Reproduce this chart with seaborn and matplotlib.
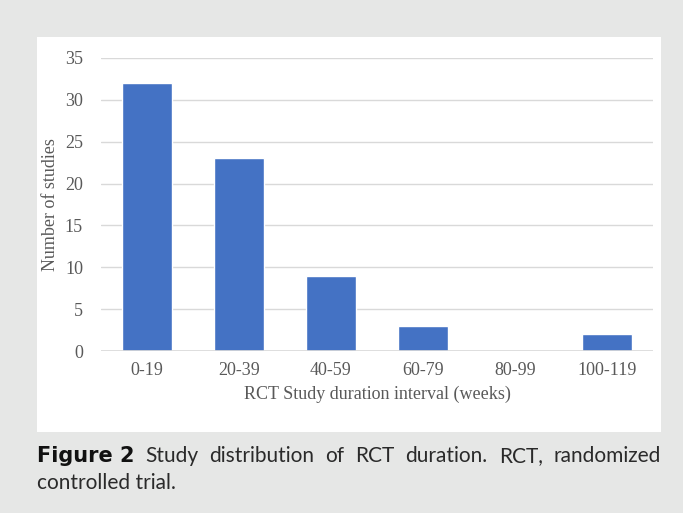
import matplotlib
matplotlib.use("Agg")
import matplotlib.pyplot as plt
import seaborn as sns
import pandas as pd
from matplotlib.patches import Rectangle

# Study counts per RCT duration interval
intervals = ["0-19", "20-39", "40-59", "60-79", "80-99", "100-119"]
n_studies = [32, 23, 9, 3, 0, 2]
y_ticks = [0, 5, 10, 15, 20, 25, 30, 35]

caption_line1 = [("Figure 2", True), ("Study", False), ("distribution", False),
                 ("of", False), ("RCT", False), ("duration.", False), ("RCT,", False),
                 ("randomized", False)]
caption_line2 = "controlled trial."

W, H = 683, 513
sns.set_theme(style="white")
plt.rcParams["font.family"] = ["Liberation Serif", "DejaVu Serif"]

fig = plt.figure(figsize=(W / 100, H / 100), dpi=100)
fig.patch.set_facecolor("#e6e7e6")

# white chart panel behind the plot
panel = Rectangle((37 / W, 1 - 432 / H), 624 / W, 395 / H, transform=fig.transFigure,
                  facecolor="white", edgecolor="none", zorder=-10)
fig.patches.append(panel)

ax = fig.add_axes([101 / W, 1 - 351 / H, 552 / W, 293 / H])
ax.set_zorder(1)
ax.set_facecolor("none")

df = pd.DataFrame({"interval": intervals, "count": n_studies})
sns.barplot(data=df, x="interval", y="count", color="#4472c4", saturation=1,
            width=0.54, ax=ax, zorder=3)

ax.set_xlim(-0.5, len(intervals) - 0.5)
ax.set_ylim(0, 35)
ax.set_yticks(y_ticks)
ax.yaxis.grid(True, color="#d9d9d9", linewidth=1.0, zorder=0)
ax.set_axisbelow(True)
for s in ax.spines.values():
    s.set_visible(False)
ax.axhline(0, color="#d9d9d9", linewidth=1.2, zorder=4)

text_color = "#595959"
fs = 13
ax.tick_params(axis="both", length=0, labelsize=fs, labelcolor=text_color)
ax.tick_params(axis="y", pad=13)
ax.tick_params(axis="x", pad=8)
ax.set_xlabel("RCT Study duration interval (weeks)", fontsize=fs, color=text_color, labelpad=5)
ax.set_ylabel("Number of studies", fontsize=fs, color=text_color, labelpad=4)

# caption, justified across the panel width
x0, x1 = 37 / W, 661 / W
y1 = 1 - 462 / H
fig.canvas.draw()
renderer = fig.canvas.get_renderer()
words = []
for w, bold in caption_line1:
    if bold:
        t = fig.text(0, y1, w, fontsize=15, family=["DejaVu Sans"], fontweight="bold",
                     color="#111111", ha="left", va="baseline")
    else:
        t = fig.text(0, y1, w, fontsize=15, family=["Lato", "DejaVu Sans"],
                     color="#2a2a2a", ha="left", va="baseline")
    words.append(t)
widths = [t.get_window_extent(renderer).width / W for t in words]
gap = ((x1 - x0) - sum(widths)) / (len(words) - 1)
x = x0
for t, wd in zip(words, widths):
    t.set_x(x)
    x += wd + gap

fig.text(x0, 1 - 489 / H, caption_line2, fontsize=15, family=["Lato", "DejaVu Sans"],
         color="#2a2a2a", ha="left", va="baseline")

fig.savefig("out.png", dpi=100, facecolor=fig.get_facecolor())
